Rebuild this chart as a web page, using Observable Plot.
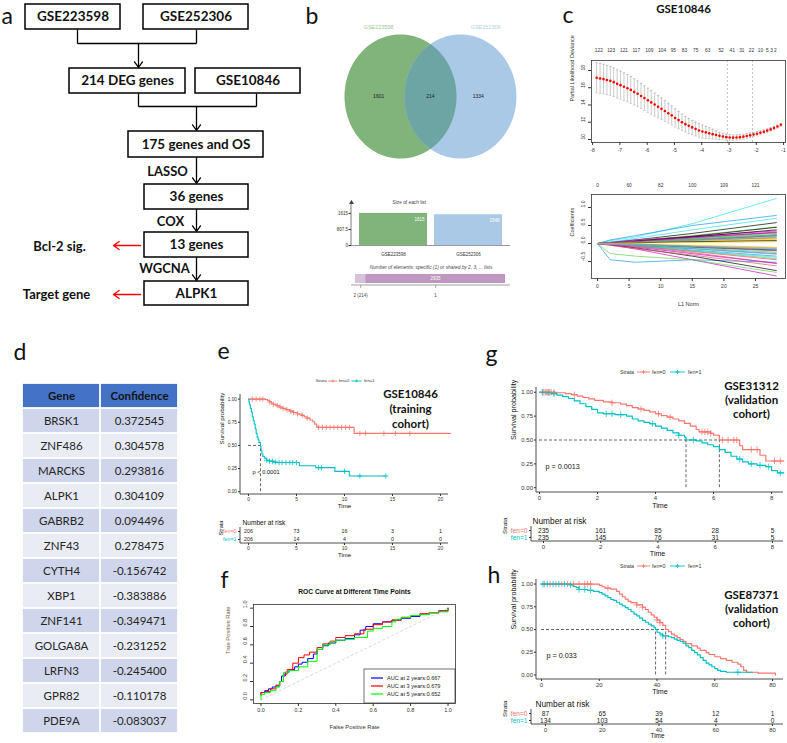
<!DOCTYPE html>
<html>
<head>
<meta charset="utf-8">
<script src="https://cdn.jsdelivr.net/npm/d3@7"></script>
<script src="https://cdn.jsdelivr.net/npm/@observablehq/plot@0.6"></script>
<style>
html, body { margin: 0; padding: 0; background: #fff; }
#fig { position: relative; width: 787px; height: 743px; overflow: hidden; background: #fff; }
#fig svg { position: absolute; overflow: visible; max-width: none; }
</style>
</head>
<body>
<div id="fig"></div>
<script>
// ---------------- data ----------------
// (a) workflow
const flowBoxes = ["GSE223598", "GSE252306", "214 DEG genes", "GSE10846", "175 genes and OS", "36 genes", "13 genes", "ALPK1"];
const flowSteps = ["LASSO", "COX", "WGCNA"];
const flowNotes = ["Bcl-2 sig.", "Target gene"];

// (b) overlap of the two DEG lists
const vennSets = ["GSE223598", "GSE252306"];
const vennCounts = [1601, 214, 1334];        // only first, shared, only second
const listSizes = [1615, 1548];
const sharedLabels = ["2 (214)", "1"];
const sharedCounts = [214, 2935];

// (c) LASSO cross-validation
const cvLogLambda = [-7.850, -7.725, -7.600, -7.475, -7.350, -7.225, -7.100, -6.975, -6.850, -6.725,
  -6.600, -6.475, -6.350, -6.225, -6.100, -5.975, -5.850, -5.725, -5.600, -5.475,
  -5.350, -5.225, -5.100, -4.975, -4.850, -4.725, -4.600, -4.475, -4.350, -4.225,
  -4.100, -3.975, -3.850, -3.725, -3.600, -3.475, -3.350, -3.225, -3.100, -2.975,
  -2.850, -2.725, -2.600, -2.475, -2.350, -2.225, -2.100, -1.975, -1.850, -1.725,
  -1.600, -1.475, -1.350, -1.225, -1.100];
const cvMean = [17.15, 17.08, 17.00, 16.90, 16.80, 16.65, 16.45, 16.30, 16.12, 15.95,
  15.75, 15.52, 15.30, 15.05, 14.80, 14.55, 14.30, 14.05, 13.80, 13.55,
  13.30, 13.05, 12.80, 12.50, 12.25, 12.00, 11.78, 11.58, 11.40, 11.22,
  11.05, 10.92, 10.82, 10.72, 10.62, 10.52, 10.42, 10.34, 10.27, 10.23,
  10.21, 10.23, 10.27, 10.33, 10.40, 10.48, 10.57, 10.67, 10.78, 10.90,
  11.03, 11.17, 11.32, 11.50, 11.70];
const cvSd = [1.75, 1.74, 1.72, 1.70, 1.68, 1.66, 1.64, 1.62, 1.60, 1.58,
  1.55, 1.52, 1.49, 1.46, 1.43, 1.40, 1.37, 1.33, 1.29, 1.25,
  1.20, 1.15, 1.10, 1.05, 1.00, 0.95, 0.90, 0.86, 0.82, 0.80,
  0.78, 0.75, 0.70, 0.64, 0.56, 0.48, 0.42, 0.38, 0.35, 0.33,
  0.31, 0.30, 0.29, 0.28, 0.27, 0.26, 0.25, 0.24, 0.23, 0.22,
  0.21, 0.20, 0.19, 0.18, 0.17];
const cvTopLogLambda = [-7.77, -7.32, -6.85, -6.40, -5.92, -5.45, -5.04, -4.63, -4.22, -3.78, -3.29, -2.88, -2.53, -2.18, -1.85, -1.60, -1.44, -1.30];
const cvTopCounts = [122, 123, 121, 117, 109, 104, 95, 83, 75, 63, 52, 41, 31, 22, 10, 5, 3, 2];
const lambdaMin = -3.06;
const lambda1se = -2.14;

// (c) coefficient paths: value at each L1-norm knot (path starts at 0)
const coefKnots = [0, 2, 6, 15, 28.3];
const coefPaths = [
  [0.03, 0.10, 0.28, 0.58], [0.02, 0.06, 0.14, 0.30], [0.03, 0.09, 0.22, 0.46], [-0.45, -0.52, -0.45, -0.52],
  [0.08, 0.18, 0.55, 1.25], [-0.04, -0.15, -0.45, -0.90], [0.01, 0.04, 0.08, 0.15], [-0.01, -0.05, -0.10, -0.20],
  [-0.03, -0.12, -0.35, -0.75], [-0.02, -0.08, -0.25, -0.55], [-0.28, -0.35, -0.45, -0.80], [0.10, 0.22, 0.50, 0.78],
  [0.04, 0.14, 0.38, 0.70], [0.02, 0.06, 0.20, 0.35], [-0.01, -0.04, -0.12, -0.25], [0.01, 0.05, 0.12, 0.22],
  [0.02, 0.07, 0.20, 0.45], [-0.05, -0.14, -0.32, -0.62], [0.01, 0.03, 0.10, 0.20], [-0.02, -0.06, -0.18, -0.35],
  [0.02, 0.05, 0.15, 0.25], [0.03, 0.10, 0.18, 0.30], [0.00, 0.02, 0.06, 0.10], [-0.02, -0.05, -0.15, -0.30],
  [-0.01, -0.04, -0.10, -0.18], [0.02, 0.05, 0.10, 0.16], [-0.01, -0.06, -0.20, -0.42], [0.01, 0.04, 0.12, 0.24],
  [-0.02, -0.07, -0.20, -0.38], [-0.03, -0.10, -0.28, -0.55], [0.01, 0.03, 0.07, 0.12], [0.00, -0.02, -0.06, -0.12],
  [0.01, 0.06, 0.18, 0.38], [-0.01, -0.03, -0.09, -0.20], [0.02, 0.05, 0.14, 0.28], [-0.01, -0.05, -0.14, -0.28],
  [0.01, 0.03, 0.08, 0.18], [0.01, 0.04, 0.10, 0.22], [-0.01, -0.02, -0.05, -0.10], [0.01, 0.03, 0.09, 0.16],
  [0.00, 0.02, 0.05, 0.08], [-0.02, -0.07, -0.22, -0.45], [0.01, 0.04, 0.11, 0.24], [0.00, -0.02, -0.08, -0.16],
  [-0.01, -0.04, -0.12, -0.24], [0.02, 0.06, 0.16, 0.32], [0.00, 0.01, 0.03, 0.05], [-0.01, -0.03, -0.08, -0.14]
];
const coefTopL1 = [0, 5, 10, 15, 20, 25];
const coefTopCounts = [0, 60, 82, 100, 109, 121];

// (d) gene table
const geneNames = ["BRSK1", "ZNF486", "MARCKS", "ALPK1", "GABRB2", "ZNF43", "CYTH4", "XBP1", "ZNF141", "GOLGA8A", "LRFN3", "GPR82", "PDE9A"];
const geneConfidence = [0.372545, 0.304578, 0.293816, 0.304109, 0.094496, 0.278475, -0.156742, -0.383886, -0.349471, -0.231252, -0.245400, -0.110178, -0.083037];

// survival strata
const strataNames = ["fen=0", "fen=1"];

// (e) GSE10846 Kaplan-Meier: [time, survival after the step]
const kmE0 = [[0, 1], [1.8, 0.995], [2.0, 0.985], [2.2, 0.97], [2.4, 0.955], [2.6, 0.945], [2.9, 0.93], [3.2, 0.915], [3.5, 0.9], [3.9, 0.885], [4.3, 0.87], [4.7, 0.855], [5.1, 0.84], [5.5, 0.825], [5.8, 0.81], [6.1, 0.795], [6.4, 0.775], [6.7, 0.755], [6.9, 0.73], [7.1, 0.705], [7.3, 0.695], [11.0, 0.63], [21, 0.63]];
const kmE1 = [[0, 1], [0.05, 0.97], [0.1, 0.94], [0.2, 0.9], [0.3, 0.86], [0.4, 0.81], [0.5, 0.77], [0.6, 0.73], [0.7, 0.68], [0.8, 0.63], [0.9, 0.59], [1.0, 0.56], [1.1, 0.53], [1.25, 0.49], [1.3, 0.45], [1.4, 0.41], [1.5, 0.38], [1.7, 0.36], [1.9, 0.34], [2.2, 0.33], [2.6, 0.32], [3.0, 0.315], [5.3, 0.28], [7.0, 0.26], [9.0, 0.22], [10.5, 0.17], [14.3, 0.17]];
const censE0 = [0.4, 0.8, 1.2, 1.5, 2.2, 2.6, 3.0, 3.3, 3.6, 4.0, 4.4, 4.7, 5.1, 5.6, 6.1, 7.3, 7.7, 8.1, 8.5, 8.9, 9.3, 9.7, 10.1, 10.5, 11.6, 12.2, 14.1, 15.3, 16.8];
const censE1 = [1.9, 2.2, 2.5, 2.8, 3.2, 3.5, 3.9, 4.3, 4.6, 5.0, 7.3, 7.6, 10.0, 11.6, 14.3];
const medianE = [1.25];
const riskTimesE = [0, 5, 10, 15, 20];
const riskE0 = [206, 73, 16, 3, 1];
const riskE1 = [206, 14, 4, 0, 0];

// (f) time-dependent ROC
const rocYears = [2, 3, 5];
const rocAuc = [0.667, 0.679, 0.652];
const rocFpr2 = [0, 0, 0.02, 0.04, 0.06, 0.08, 0.1, 0.11, 0.13, 0.15, 0.18, 0.2, 0.22, 0.25, 0.28, 0.3, 0.33, 0.36, 0.4, 0.45, 0.5, 0.53, 0.56, 0.6, 0.65, 0.7, 0.75, 0.8, 0.85, 0.9, 0.95, 1.0];
const rocTpr2 = [0.05, 0.08, 0.1, 0.12, 0.14, 0.15, 0.2, 0.26, 0.3, 0.33, 0.36, 0.39, 0.41, 0.45, 0.5, 0.55, 0.59, 0.62, 0.65, 0.67, 0.71, 0.76, 0.8, 0.83, 0.85, 0.87, 0.89, 0.91, 0.93, 0.95, 0.97, 1.0];
const rocFpr3 = [0, 0, 0.02, 0.05, 0.08, 0.1, 0.12, 0.14, 0.17, 0.2, 0.23, 0.26, 0.3, 0.33, 0.37, 0.4, 0.45, 0.5, 0.55, 0.6, 0.65, 0.7, 0.75, 0.8, 0.85, 0.9, 0.95, 1.0];
const rocTpr3 = [0.05, 0.08, 0.09, 0.12, 0.16, 0.2, 0.28, 0.33, 0.4, 0.46, 0.49, 0.52, 0.57, 0.61, 0.64, 0.68, 0.7, 0.72, 0.77, 0.82, 0.85, 0.87, 0.9, 0.92, 0.94, 0.95, 0.97, 1.0];
const rocFpr5 = [0, 0, 0.02, 0.05, 0.08, 0.1, 0.12, 0.15, 0.2, 0.25, 0.3, 0.33, 0.37, 0.4, 0.45, 0.5, 0.55, 0.57, 0.6, 0.65, 0.7, 0.72, 0.75, 0.8, 0.85, 0.9, 0.95, 1.0];
const rocTpr5 = [0, 0.06, 0.08, 0.1, 0.14, 0.2, 0.3, 0.32, 0.36, 0.42, 0.55, 0.6, 0.63, 0.65, 0.66, 0.68, 0.68, 0.75, 0.78, 0.8, 0.85, 0.88, 0.9, 0.92, 0.93, 0.95, 0.96, 0.99];

// (g) GSE31312
const kmG0 = [[0, 1], [0.6, 0.995], [0.9, 0.985], [1.1, 0.975], [1.3, 0.96], [1.5, 0.945], [1.7, 0.93], [1.9, 0.915], [2.2, 0.9], [2.5, 0.89], [2.8, 0.875], [3.0, 0.86], [3.2, 0.84], [3.4, 0.825], [3.6, 0.81], [3.8, 0.795], [4.0, 0.775], [4.2, 0.755], [4.4, 0.74], [4.6, 0.72], [4.8, 0.70], [5.0, 0.675], [5.2, 0.645], [5.4, 0.61], [5.5, 0.585], [5.9, 0.57], [6.0, 0.55], [6.2, 0.50], [6.9, 0.44], [7.0, 0.40], [7.6, 0.34], [7.8, 0.28], [8.42, 0.28]];
const kmG1 = [[0, 1], [0.2, 0.995], [0.4, 0.985], [0.6, 0.97], [0.8, 0.955], [1.0, 0.935], [1.2, 0.91], [1.4, 0.88], [1.6, 0.85], [1.8, 0.82], [2.0, 0.785], [2.2, 0.775], [2.6, 0.765], [3.0, 0.75], [3.2, 0.72], [3.4, 0.70], [3.6, 0.685], [3.8, 0.67], [4.0, 0.645], [4.2, 0.625], [4.4, 0.60], [4.6, 0.575], [4.8, 0.55], [5.0, 0.53], [5.05, 0.50], [5.4, 0.49], [5.6, 0.47], [5.8, 0.45], [6.0, 0.43], [6.2, 0.40], [6.4, 0.37], [6.6, 0.33], [6.8, 0.30], [7.0, 0.27], [7.2, 0.25], [7.5, 0.235], [7.8, 0.22], [8.0, 0.18], [8.2, 0.155], [8.42, 0.155]];
const censG0 = [0.1, 0.15, 0.2, 0.25, 0.3, 0.35, 0.4, 0.5, 1.2, 2.5, 3.5, 4.1, 4.5, 5.6, 5.7, 5.8, 5.9, 6.3, 6.5, 6.7, 6.8, 7.3, 7.5, 8.1, 8.3];
const censG1 = [0.1, 0.3, 0.5, 2.3, 2.5, 2.8, 3.9, 4.8, 5.3, 6.9, 7.3, 7.6, 7.9, 8.3];
const medianG = [5.05, 6.2];
const riskTimesG = [0, 2, 4, 6, 8];
const riskG0 = [235, 161, 85, 28, 5];
const riskG1 = [235, 145, 76, 31, 5];

// (h) GSE87371
const kmH0 = [[0, 1], [20, 0.985], [21, 0.97], [22, 0.955], [24, 0.945], [26, 0.92], [27, 0.89], [28, 0.86], [29, 0.835], [30, 0.81], [31, 0.795], [33, 0.77], [35, 0.745], [36, 0.72], [37, 0.69], [38, 0.66], [39, 0.635], [40, 0.605], [41, 0.575], [42, 0.545], [43, 0.5], [44, 0.475], [45, 0.45], [46, 0.43], [47, 0.41], [48, 0.39], [49, 0.37], [50, 0.345], [52, 0.32], [54, 0.295], [55, 0.27], [57, 0.245], [58, 0.225], [60, 0.2], [62, 0.18], [64, 0.16], [66, 0.14], [68, 0.12], [69, 0.09], [70, 0.05], [71, 0.03], [75, 0.02], [81, 0.0]];
const kmH1 = [[0, 1], [10, 0.99], [11, 0.975], [12, 0.96], [13, 0.94], [16, 0.93], [18, 0.92], [20, 0.905], [21, 0.89], [22, 0.87], [23, 0.85], [24, 0.83], [25, 0.82], [26, 0.8], [27, 0.78], [28, 0.76], [29, 0.74], [30, 0.72], [31, 0.695], [32, 0.67], [33, 0.65], [34, 0.625], [35, 0.6], [36, 0.58], [37, 0.56], [38, 0.54], [39, 0.52], [39.5, 0.5], [40, 0.47], [41, 0.45], [42, 0.43], [44, 0.42], [45, 0.41], [46, 0.395], [47, 0.38], [48, 0.37], [49, 0.35], [50, 0.32], [51, 0.3], [52, 0.27], [53, 0.245], [54, 0.22], [55, 0.19], [56, 0.16], [57, 0.13], [58, 0.11], [59, 0.09], [60, 0.07], [61, 0.05], [62, 0.04], [64, 0.03], [73, 0.03]];
const censH0 = [1, 3, 5, 7, 9, 11, 13, 15, 16, 17, 23, 33, 35, 40, 41];
const censH1 = [0.5, 2, 4, 6, 8, 10, 13, 15, 17, 42, 68];
const medianH = [39.5, 43];
const riskTimesH = [0, 20, 40, 60, 80];
const riskH0 = [87, 65, 39, 12, 1];
const riskH1 = [134, 103, 54, 4, 0];

// ---------------- styling ----------------
const SANS = "'Liberation Sans', Arial, sans-serif";
const CAL = "Lato, 'Open Sans', sans-serif";
const strataColors = ["#F8766D", "#00BFC4"];
const rPalette = ["#000000", "#DF536B", "#61D04F", "#2297E6", "#28E2E5", "#CD0BBC", "#F5C710", "#9E9E9E"];
const rocColors = ["#0000FF", "#FF0000", "#00FF00"];
const baseStyle = (fs) => ({fontFamily: SANS, fontSize: fs + "px", background: "transparent", color: "#333", overflow: "visible"});

const fig = document.getElementById("fig");
function place(chart, left, top) {
  chart.style.position = "absolute";
  chart.style.left = left + "px";
  chart.style.top = top + "px";
  chart.style.maxWidth = "none";
  fig.appendChild(chart);
}

// a straight axis line along one edge of the frame
function edge(side, stroke = "#222", w = 0.8) {
  return (index, scales, values, d) => {
    const l = d.marginLeft, r = d.width - d.marginRight, t = d.marginTop, b = d.height - d.marginBottom;
    const [x1, y1, x2, y2] = side === "left" ? [l, t, l, b] : [l, b, r, b];
    return d3.create("svg:line").attr("x1", x1).attr("y1", y1).attr("x2", x2).attr("y2", y2)
      .attr("stroke", stroke).attr("stroke-width", w).node();
  };
}

// "Strata  -+- fen=0  -+- fen=1" key above a survival panel
function strataLegend(scale, fontSize, dy) {
  return (index, scales, values, d) => {
    const cx = (d.marginLeft + d.width - d.marginRight) / 2;
    const y = d.marginTop + dy;
    const g = d3.create("svg:g").attr("font-family", SANS).attr("font-size", fontSize).attr("fill", "#333").attr("text-anchor", "start");
    g.append("text").attr("x", cx - 32.5 * scale).attr("y", y).attr("dy", "0.35em").attr("text-anchor", "middle").text("Strata");
    strataNames.forEach((name, i) => {
      const a = cx + (i ? 10.5 : -22.5) * scale, b = cx + (i ? 25.5 : -9.5) * scale, m = (a + b) / 2, k = 2 * scale;
      g.append("line").attr("x1", a).attr("x2", b).attr("y1", y).attr("y2", y).attr("stroke", strataColors[i]).attr("stroke-width", 0.9);
      g.append("path").attr("d", `M${m - k},${y}H${m + k}M${m},${y - k}V${y + k}`).attr("stroke", strataColors[i]).attr("stroke-width", 0.8);
      g.append("text").attr("x", cx + (i ? 28.5 : -7.5) * scale).attr("y", y).attr("dy", "0.35em").attr("text-anchor", "start").text(name);
    });
    return g.node();
  };
}

function survAt(curve, t) {
  let s = curve[0][1];
  for (const [tt, ss] of curve) { if (tt <= t) s = ss; else break; }
  return s;
}

// ---------------- overlay: workflow (a), panel letters ----------------
const flowLayout = [
  {x1: 25, x2: 120, y1: 4, y2: 29}, {x1: 143, x2: 248, y1: 4, y2: 29},
  {x1: 69, x2: 185, y1: 68, y2: 93}, {x1: 195, x2: 300, y1: 68, y2: 93},
  {x1: 128, x2: 263, y1: 131, y2: 157}, {x1: 144, x2: 248, y1: 184, y2: 209},
  {x1: 144, x2: 248, y1: 232, y2: 257}, {x1: 144, x2: 248, y1: 281, y2: 305}
];
const boxes = flowBoxes.map((label, i) => ({label, ...flowLayout[i]}));
const connectors = [
  {x1: 77, y1: 29, x2: 77, y2: 43}, {x1: 77, y1: 43, x2: 196, y2: 43}, {x1: 196, y1: 29, x2: 196, y2: 43},
  {x1: 138, y1: 93, x2: 138, y2: 106}, {x1: 138, y1: 106, x2: 256, y2: 106}, {x1: 256, y1: 93, x2: 256, y2: 106}
];
const downArrows = [
  {x1: 138, y1: 43, x2: 138, y2: 67}, {x1: 196, y1: 106, x2: 196, y2: 130},
  {x1: 196, y1: 157, x2: 196, y2: 183}, {x1: 196, y1: 209, x2: 196, y2: 231}, {x1: 196, y1: 257, x2: 196, y2: 280}
];
const stepPos = [[167, 171], [170, 221], [164, 268]];
const notePos = [[59, 246], [56, 294]];
const noteArrows = [{x1: 140, y1: 245, x2: 113, y2: 245}, {x1: 140, y1: 294, x2: 113, y2: 294}];
const panelLetters = ["a", "b", "c", "d", "e", "f", "g", "h"];
const letterPos = [[1, 16], [305, 16], [562, 15], [13, 352], [217, 351], [220, 580], [485, 354], [487, 575]];

place(Plot.plot({
  width: 787, height: 743, margin: 0,
  x: {domain: [0, 787], range: [0, 787], axis: null},
  y: {domain: [0, 743], range: [0, 743], axis: null},
  style: {background: "transparent", fontFamily: CAL, overflow: "visible"},
  marks: [
    Plot.link(connectors, {x1: "x1", y1: "y1", x2: "x2", y2: "y2", stroke: "#000", strokeWidth: 1.3}),
    Plot.arrow(downArrows, {x1: "x1", y1: "y1", x2: "x2", y2: "y2", stroke: "#000", strokeWidth: 1.3, headLength: 8, headAngle: 70}),
    Plot.arrow(noteArrows, {x1: "x1", y1: "y1", x2: "x2", y2: "y2", stroke: "#FF0000", strokeWidth: 1.3, headLength: 8, headAngle: 70}),
    Plot.rect(boxes, {x1: "x1", x2: "x2", y1: "y1", y2: "y2", fill: "white", stroke: "#000", strokeWidth: 1.5}),
    Plot.text(boxes, {x: d => (d.x1 + d.x2) / 2, y: d => (d.y1 + d.y2) / 2, text: "label", fontWeight: "bold", fontSize: 13.5, fill: "#111"}),
    Plot.text(flowSteps, {x: (d, i) => stepPos[i][0], y: (d, i) => stepPos[i][1], fontWeight: "bold", fontSize: 13, fill: "#111"}),
    Plot.text(flowNotes, {x: (d, i) => notePos[i][0], y: (d, i) => notePos[i][1], fontWeight: "bold", fontSize: 13, fill: "#111"}),
    Plot.text(panelLetters, {x: (d, i) => letterPos[i][0], y: (d, i) => letterPos[i][1], textAnchor: "start", fontSize: 23, fill: "#111"}),
    Plot.text(["GSE10846"], {x: 683, y: 9, fontWeight: "bold", fontSize: 11.5, fill: "#111"})
  ]
}), 0, 0);

// ---------------- (b) Venn ----------------
const vennD = 1.07; // centre distance in radius units
const ring = (cx) => d3.range(0, 361, 3).map(a => ({x: cx + Math.cos(a * Math.PI / 180), y: Math.sin(a * Math.PI / 180)}));
const th = Math.acos(vennD / 2);
const lens = [
  ...d3.range(-th, th, 0.02).map(a => ({x: Math.cos(a), y: Math.sin(a)})),
  {x: Math.cos(th), y: Math.sin(th)},
  ...d3.range(Math.PI - th, Math.PI + th, 0.02).map(a => ({x: vennD + Math.cos(a), y: Math.sin(a)})),
  {x: vennD + Math.cos(Math.PI + th), y: Math.sin(Math.PI + th)}
];
const vennLabelX = [-0.39, 1.52];
const vennCountX = [-0.39, vennD / 2, 1.39];
place(Plot.plot({
  width: 230, height: 150, margin: 0,
  x: {domain: [-100 / 56, 130 / 56], axis: null},
  y: {domain: [-69 / 62, 81 / 62], axis: null},
  style: baseStyle(5),
  marks: [
    Plot.line(ring(0), {x: "x", y: "y", fill: "#80B47A", stroke: "none"}),
    Plot.line(ring(vennD), {x: "x", y: "y", fill: "#A9C9E7", stroke: "none"}),
    Plot.line(lens, {x: "x", y: "y", fill: "#6DA4A4", stroke: "none"}),
    Plot.text(vennSets, {x: (d, i) => vennLabelX[i], y: 1.11, fill: (d, i) => ["#9CC796", "#B3D0EC"][i], fontSize: 5.5}),
    Plot.text(vennCounts, {x: (d, i) => vennCountX[i], y: 0, text: d => String(d), fill: "#222", fontSize: 5})
  ]
}), 300, 15);

// ---------------- (b) list sizes ----------------
const listRows = vennSets.map((set, i) => ({set, n: listSizes[i]}));
place(Plot.plot({
  width: 185, height: 75, marginLeft: 21, marginRight: 5, marginTop: 12, marginBottom: 20,
  x: {domain: vennSets, range: [25, 176], paddingInner: 0.09, paddingOuter: 0.05, axis: null, label: null},
  y: {domain: [0, d3.max(listSizes) * 1.34], axis: null, label: null},
  color: {type: "identity"},
  style: baseStyle(4.5),
  marks: [
    Plot.barY(listRows, {x: "set", y: "n", fill: (d, i) => ["#80B47A", "#A9C9E7"][i]}),
    Plot.ruleY([0], {stroke: "#999", strokeWidth: 1}),
    edge("left", "#444", 0.7),
    Plot.dot([0], {frameAnchor: "top-left", symbol: "triangle", r: 1.8, fill: "#444"}),
    Plot.axisY({ticks: [0, listSizes[0] / 2, listSizes[0]], tickSize: 2.5, tickPadding: 1, fontSize: 4.5, tickFormat: d => String(d), label: null}),
    Plot.axisX({tickSize: 0, tickPadding: 7, fontSize: 4.5, label: null}),
    Plot.text(listRows, {x: "set", y: "n", text: d => String(d.n), dx: 31, dy: 6, textAnchor: "end", fill: "white", fontSize: 4.5}),
    Plot.text(["Size of each list"], {frameAnchor: "top-left", dx: 41, dy: -2, fontSize: 4.8, fill: "#444"})
  ]
}), 330, 190);

// ---------------- (b) shared elements bar ----------------
const sharedEnds = d3.cumsum(sharedCounts);
const sharedRows = sharedLabels.map((label, i) => ({label, n: sharedCounts[i], x1: sharedEnds[i] - sharedCounts[i], x2: sharedEnds[i]}));
place(Plot.plot({
  width: 185, height: 45, marginLeft: 21, marginRight: 5, marginTop: 16, marginBottom: 18,
  x: {domain: [0, d3.sum(sharedCounts)], range: [25, 175], axis: null, label: null},
  color: {type: "identity"},
  style: baseStyle(4.5),
  marks: [
    Plot.rectX(sharedRows, {x1: "x1", x2: "x2", fill: (d, i) => ["#D7C1DB", "#BE98C1"][i], insetBottom: 2}),
    edge("bottom", "#777", 0.7),
    Plot.tickX(sharedRows, {x: d => (d.x1 + d.x2) / 2, stroke: "#777", strokeWidth: 0.6, insetTop: 11, insetBottom: -3}),
    Plot.text(sharedRows, {x: d => (d.x1 + d.x2) / 2, frameAnchor: "bottom", dy: 11, text: "label", fontSize: 4.5, fill: "#444"}),
    Plot.text(sharedRows.filter(d => d.n > 1000), {x: d => (d.x1 + d.x2) / 2, frameAnchor: "middle", dy: -1, text: d => String(d.n), fill: "white", fontSize: 4.5}),
    Plot.text(["Number of elements: specific (1) or shared by 2, 3, ... lists"], {frameAnchor: "top", dy: -9, fontStyle: "italic", fontSize: 4.8, fill: "#444"})
  ]
}), 330, 258);

// ---------------- (c) cross-validation curve ----------------
const cvRows = cvLogLambda.map((x, i) => ({x, m: cvMean[i], lo: cvMean[i] - cvSd[i], hi: cvMean[i] + cvSd[i]}));
const grey = "#A8A8A8";
place(Plot.plot({
  width: 227, height: 125, marginLeft: 31, marginRight: 2, marginTop: 22, marginBottom: 21,
  x: {domain: [-8.04, -0.93], axis: null, label: null},
  y: {domain: [9.65, 19.16], axis: null, label: null},
  style: baseStyle(5),
  marks: [
    Plot.ruleX([lambdaMin, lambda1se], {stroke: "#999", strokeDasharray: "2,2", strokeWidth: 0.6}),
    Plot.ruleX(cvRows, {x: "x", y1: "lo", y2: "hi", stroke: grey, strokeWidth: 0.6}),
    Plot.link(cvRows, {x1: d => d.x - 0.045, x2: d => d.x + 0.045, y1: "hi", y2: "hi", stroke: grey, strokeWidth: 0.6}),
    Plot.link(cvRows, {x1: d => d.x - 0.045, x2: d => d.x + 0.045, y1: "lo", y2: "lo", stroke: grey, strokeWidth: 0.6}),
    Plot.dot(cvRows, {x: "x", y: "m", r: 1.3, fill: "#FF0000"}),
    Plot.frame({stroke: "#333", strokeWidth: 0.8}),
    Plot.axisX({ticks: d3.range(-8, 0), tickSize: 3, tickPadding: 3, fontSize: 5, tickFormat: d => String(d), label: null}),
    Plot.axisY({ticks: [10, 12, 14, 16, 18], tickSize: 3, tickFormat: () => "", label: null}),
    Plot.text([10, 12, 14, 16, 18], {y: d => d, text: d => String(d), frameAnchor: "left", dx: -8, rotate: -90, fontSize: 5}),
    Plot.text(["Partial Likelihood Deviance"], {frameAnchor: "left", dx: -19, rotate: -90, fontSize: 5.5}),
    Plot.text(cvTopCounts, {x: (d, i) => cvTopLogLambda[i], text: d => String(d), frameAnchor: "top", dy: -12, fontSize: 4.8})
  ]
}), 560, 38);

// ---------------- (c) coefficient paths ----------------
const coefRows = coefPaths.flatMap((v, g) => [0, ...v].map((c, k) => ({g, l1: coefKnots[k], c})));
place(Plot.plot({
  width: 227, height: 145, marginLeft: 31, marginRight: 2, marginTop: 24, marginBottom: 37,
  x: {domain: [-0.95, 29.75], axis: null, label: null},
  y: {domain: [-0.97, 1.36], axis: null, label: null},
  color: {type: "identity"},
  style: baseStyle(5),
  marks: [
    Plot.line(coefRows, {x: "l1", y: "c", z: "g", stroke: d => rPalette[d.g % 8], strokeWidth: 0.7}),
    Plot.frame({stroke: "#333", strokeWidth: 0.8}),
    Plot.axisX({ticks: [0, 5, 10, 15, 20, 25], tickSize: 3, tickPadding: 3, fontSize: 5, tickFormat: d => String(d), label: null}),
    Plot.axisY({ticks: [-0.5, 0, 0.5, 1], tickSize: 3, tickFormat: () => "", label: null}),
    Plot.text([-0.5, 0, 0.5, 1], {y: d => d, text: d3.format(".1f"), frameAnchor: "left", dx: -8, rotate: -90, fontSize: 5}),
    Plot.text(["Coefficients"], {frameAnchor: "left", dx: -19, rotate: -90, fontSize: 5.5}),
    Plot.text(coefTopCounts, {x: (d, i) => coefTopL1[i], text: d => String(d), frameAnchor: "top", dy: -11, fontSize: 4.8}),
    Plot.text(["L1 Norm"], {frameAnchor: "bottom", dy: 27, fontSize: 5.5})
  ]
}), 560, 170);

// ---------------- (d) table ----------------
const tableRows = ["header", ...geneNames];
const tableCells = [
  {row: "header", col: "Gene", text: "Gene", k: -1},
  {row: "header", col: "Confidence", text: "Confidence", k: -1},
  ...geneNames.flatMap((g, i) => [
    {row: g, col: "Gene", text: g, k: i},
    {row: g, col: "Confidence", text: geneConfidence[i].toFixed(6), k: i}
  ])
];
place(Plot.plot({
  width: 156, height: 355, margin: 0,
  x: {domain: ["Gene", "Confidence"], padding: 0, axis: null},
  y: {domain: tableRows, padding: 0, axis: null},
  color: {type: "identity"},
  style: {fontFamily: CAL, background: "transparent", overflow: "visible"},
  marks: [
    Plot.cell(tableCells, {x: "col", y: "row", fill: d => d.k < 0 ? "#4472C4" : d.k % 2 ? "#E9EBF5" : "#CFD5EA", inset: 0.9}),
    Plot.text(tableCells.filter(d => d.k < 0), {x: "col", y: "row", text: "text", fontWeight: "bold", fontSize: 11.5, fill: "#141414"}),
    Plot.text(tableCells.filter(d => d.k >= 0), {x: "col", y: "row", text: "text", fontSize: 11.5, fill: "#262626"})
  ]
}), 22, 380);

// ---------------- Kaplan-Meier panels ----------------
function kmChart(o) {
  const rows = o.curves.flatMap((c, i) => c.map(([t, s]) => ({i, t, s})));
  const cens = o.censors.flatMap((c, i) => c.map(t => ({i, t, s: survAt(o.curves[i], t)})));
  return Plot.plot({
    width: o.width, height: o.height, marginLeft: o.ml, marginRight: o.mr, marginTop: o.mt, marginBottom: o.mb,
    x: {domain: o.xDomain, axis: null, label: null},
    y: {domain: o.yDomain, axis: null, label: null},
    color: {type: "identity"},
    style: baseStyle(o.tickFont),
    marks: [
      Plot.ruleY([0.5], {x1: 0, x2: d3.max(o.medians), stroke: "#222", strokeDasharray: "3,2", strokeWidth: 0.7}),
      Plot.ruleX(o.medians, {y1: 0, y2: 0.5, stroke: "#222", strokeDasharray: "3,2", strokeWidth: 0.7}),
      Plot.line(rows, {x: "t", y: "s", z: "i", stroke: d => strataColors[d.i], curve: "step-after", strokeWidth: o.lw}),
      Plot.dot(cens, {x: "t", y: "s", symbol: "plus", r: o.cr, stroke: d => strataColors[d.i], strokeWidth: 0.8}),
      edge("left"), edge("bottom"),
      Plot.axisX({ticks: o.xTicks, tickSize: 2, tickPadding: 1, fontSize: o.tickFont, tickFormat: d => String(d), label: null}),
      Plot.axisY({ticks: [0, 0.25, 0.5, 0.75, 1], tickSize: 2, tickPadding: 1.5, fontSize: o.tickFont, tickFormat: d3.format(".2f"), label: null}),
      Plot.text(["Time"], {frameAnchor: "bottom", dy: o.timeDy, fontSize: o.labelFont, fill: "#111"}),
      Plot.text(["Survival probability"], {frameAnchor: "left", dx: o.ylabDx, rotate: -90, fontSize: o.labelFont, fill: "#111"}),
      Plot.text([o.p], {frameAnchor: "bottom-left", dx: o.pDx, dy: o.pDy, textAnchor: "start", fontSize: o.pFont, fill: "#111"}),
      Plot.text([o.title], {frameAnchor: "top-right", dx: o.titleDx, dy: o.titleDy, textAnchor: "middle", lineAnchor: "middle",
        fontFamily: CAL, fontWeight: "bold", fontSize: o.titleFont, lineHeight: o.titleLH, fill: "#111"}),
      strataLegend(o.legScale, o.legFont, o.legDy)
    ]
  });
}

function riskTable(o) {
  const rows = o.counts.flatMap((c, i) => c.map((n, k) => ({i, t: o.times[k], n})));
  return Plot.plot({
    width: o.width, height: o.height, marginLeft: o.ml, marginRight: o.mr, marginTop: o.mt, marginBottom: o.mb,
    x: {domain: o.xDomain, axis: null, label: null},
    y: {type: "point", domain: strataNames, padding: 0.5, axis: null, label: null},
    color: {type: "identity"},
    style: baseStyle(o.font),
    marks: [
      edge("left"), edge("bottom"),
      Plot.text(rows, {x: "t", y: d => strataNames[d.i], text: d => String(d.n), fontSize: o.font, fill: "#222"}),
      Plot.text(strataNames, {y: d => d, frameAnchor: "left", dx: -4, textAnchor: "end", fill: (d, i) => strataColors[i], fontSize: o.font}),
      Plot.axisY({tickSize: 2, tickFormat: () => "", label: null}),
      Plot.axisX({ticks: o.times, tickSize: 2, tickPadding: 1, fontSize: o.tickFont, tickFormat: d => String(d), label: null}),
      Plot.text(["Time"], {frameAnchor: "bottom", dy: o.timeDy, fontSize: o.labelFont, fill: "#111"}),
      Plot.text(["Number at risk"], {frameAnchor: "top-left", dx: o.titleDx, dy: o.titleDy, textAnchor: "start", fontSize: o.titleFont, fill: "#111"}),
      Plot.text(["Strata"], {frameAnchor: "left", dx: o.strataDx, rotate: -90, fontSize: o.strataFont, fill: "#111"})
    ]
  });
}

// (e)
place(kmChart({
  curves: [kmE0, kmE1], censors: [censE0, censE1], medians: medianE,
  width: 265, height: 150, ml: 40, mr: 17, mt: 29, mb: 21,
  xDomain: [-0.83, 20.83], yDomain: [-0.03, 1.05], xTicks: [0, 5, 10, 15, 20],
  tickFont: 4.8, labelFont: 6.2, lw: 1.1, cr: 1.8,
  timeDy: 13, ylabDx: -18, p: "p < 0.0001", pDx: 12, pDy: -21, pFont: 5.7,
  title: "GSE10846\n(training\ncohort)", titleDx: -38, titleDy: 14, titleFont: 11.5, titleLH: 1.3,
  legScale: 0.7, legFont: 4.2, legDy: -13
}), 200, 365);
place(riskTable({
  counts: [riskE0, riskE1], times: riskTimesE,
  width: 265, height: 50, ml: 40, mr: 17, mt: 15, mb: 19,
  xDomain: [-0.83, 20.83], font: 5.3, tickFont: 5.0, labelFont: 6.0, titleFont: 6.6, strataFont: 5.6,
  timeDy: 13, titleDx: 2, titleDy: -7, strataDx: -19
}), 200, 512);

// (g)
place(kmChart({
  curves: [kmG0, kmG1], censors: [censG0, censG1], medians: medianG,
  width: 282, height: 155, ml: 31, mr: 4, mt: 27, mb: 23,
  xDomain: [-0.103, 8.41], yDomain: [-0.05, 1.05], xTicks: [0, 2, 4, 6, 8],
  tickFont: 6.0, labelFont: 7.2, lw: 1.2, cr: 2.2,
  timeDy: 15, ylabDx: -23, p: "p = 0.0013", pDx: 9, pDy: -24, pFont: 7.2,
  title: "GSE31312\n(validation\ncohort)", titleDx: -32, titleDy: 12, titleFont: 11.5, titleLH: 1.22,
  legScale: 1, legFont: 5.3, legDy: -15
}), 505, 360);
place(riskTable({
  counts: [riskG0, riskG1], times: riskTimesG,
  width: 287, height: 50, ml: 31, mr: 4, mt: 18, mb: 17,
  xDomain: [-0.419, 8.384], font: 6.6, tickFont: 6.0, labelFont: 7.0, titleFont: 8.3, strataFont: 6.2,
  timeDy: 14.5, titleDx: 1, titleDy: -8, strataDx: -26
}), 500, 508);

// (h)
place(kmChart({
  curves: [kmH0, kmH1], censors: [censH0, censH1], medians: medianH,
  width: 282, height: 150, ml: 31, mr: 4, mt: 29, mb: 21,
  xDomain: [-1.73, 83.8], yDomain: [-0.05, 1.05], xTicks: [0, 20, 40, 60, 80],
  tickFont: 6.0, labelFont: 7.2, lw: 1.2, cr: 2.2,
  timeDy: 14.5, ylabDx: -23, p: "p = 0.033", pDx: 10, pDy: -22, pFont: 7.2,
  title: "GSE87371\n(validation\ncohort)", titleDx: -32, titleDy: 29, titleFont: 11.5, titleLH: 1.22,
  legScale: 1, legFont: 5.3, legDy: -13
}), 505, 550);
place(riskTable({
  counts: [riskH0, riskH1], times: riskTimesH,
  width: 287, height: 48, ml: 31, mr: 4, mt: 17, mb: 16,
  xDomain: [-4.93, 83.88], font: 6.6, tickFont: 5.8, labelFont: 6.4, titleFont: 8.3, strataFont: 6.2,
  timeDy: 13.5, titleDx: 4, titleDy: -8, strataDx: -26
}), 500, 692);

// ---------------- (f) ROC ----------------
const rocRows = [[rocFpr2, rocTpr2], [rocFpr3, rocTpr3], [rocFpr5, rocTpr5]]
  .flatMap(([f, t], k) => f.map((fpr, j) => ({k, fpr, tpr: t[j]})));
const rocLegend = (index, scales, values, d) => {
  const right = d.width - d.marginRight, bottom = d.height - d.marginBottom;
  const g = d3.create("svg:g").attr("font-family", SANS).attr("font-size", 5.6).attr("fill", "#222").attr("text-anchor", "start");
  g.append("rect").attr("x", right - 91).attr("y", bottom - 34).attr("width", 91).attr("height", 34)
    .attr("fill", "white").attr("stroke", "#333").attr("stroke-width", 0.7);
  rocYears.forEach((yr, i) => {
    const y = bottom - 25 + i * 8;
    g.append("line").attr("x1", right - 84).attr("x2", right - 72).attr("y1", y).attr("y2", y)
      .attr("stroke", rocColors[i]).attr("stroke-width", 1.2);
    g.append("text").attr("x", right - 68).attr("y", y).attr("dy", "0.35em").attr("text-anchor", "start")
      .text(`AUC at ${yr} years:${rocAuc[i].toFixed(3)}`);
  });
  return g.node();
};
const rocTicks = [0, 0.2, 0.4, 0.6, 0.8, 1];
place(Plot.plot({
  width: 240, height: 168, marginLeft: 28, marginRight: 10, marginTop: 29, marginBottom: 40,
  x: {domain: [-0.04, 1.04], axis: null, label: null},
  y: {domain: [-0.04, 1.04], axis: null, label: null},
  color: {type: "identity"},
  style: baseStyle(5.5),
  marks: [
    Plot.link([0], {x1: 0, y1: 0, x2: 1, y2: 1, stroke: "#C8C8C8", strokeDasharray: "3,2", strokeWidth: 0.7}),
    Plot.line(rocRows, {x: "fpr", y: "tpr", z: "k", stroke: d => rocColors[d.k], curve: "step-after", strokeWidth: 1}),
    Plot.frame({stroke: "#333", strokeWidth: 0.8}),
    Plot.axisX({ticks: rocTicks, tickFormat: d3.format(".1f"), tickSize: 3, tickPadding: 2, fontSize: 5.5, label: null}),
    Plot.axisY({ticks: rocTicks, tickSize: 3, tickFormat: () => "", label: null}),
    Plot.text(rocTicks, {y: d => d, text: d3.format(".1f"), frameAnchor: "left", dx: -8, rotate: -90, fontSize: 5.5}),
    Plot.text(["False Positive Rate"], {frameAnchor: "bottom", dy: 25, fontSize: 5.8}),
    Plot.text(["True Positive Rate"], {frameAnchor: "left", dx: -25, rotate: -90, fontSize: 5.8, fill: "#7A5A3A"}),
    Plot.text(["ROC Curve at Different Time Points"], {frameAnchor: "top", dy: -15, fontWeight: "bold", fontSize: 6.7, fill: "#111"}),
    rocLegend
  ]
}), 225, 575);
</script>
</body>
</html>
